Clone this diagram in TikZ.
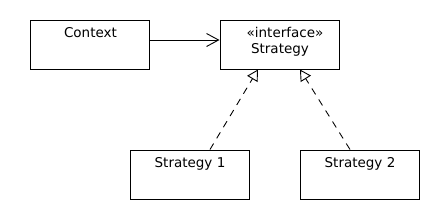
\documentclass[tikz,border=0pt]{standalone}
\usepackage{fontspec}
\setmainfont{DejaVu Sans}
\usetikzlibrary{arrows.meta}
\begin{document}
\begin{tikzpicture}[x=1pt,y=-1pt,
  box/.style={draw,line width=1pt,minimum width=119pt,minimum height=49pt,inner sep=0pt},
  lbl/.style={anchor=base,inner sep=0pt,font=\fontsize{13.5pt}{15pt}\selectfont},
  assoc/.style={line width=0.9pt,-{Straight Barb[length=12pt,width=13pt,line width=0.9pt]}},
  realize/.style={line width=0.9pt,dash pattern=on 7pt off 6pt,-{Triangle[open,fill=white,length=11pt,width=12pt,line width=0.9pt]}}]
\useasboundingbox[fill=white] (0,0) rectangle (440,220);
\node[box] (ctx) at (89.5,44.5) {};
\node[box] (strat) at (279.5,44.5) {};
\node[box] (s1) at (189.5,174.5) {};
\node[box] (s2) at (359.5,174.5) {};
\node[lbl] (ctxt) at (90.5,37) {Context};
\node[lbl] (st1) at (285,37) {«interface»};
\node[lbl] (st2) at (280,53.5) {Strategy};
\node[lbl] (s1t) at (190,167) {Strategy 1};
\node[lbl] (s2t) at (360,167) {Strategy 2};
\draw[assoc] ([yshift=4.5pt]ctx.east) -- ([yshift=4.5pt]strat.west);
\draw[realize] ([xshift=20.5pt]s1.north) -- ([xshift=-21.5pt]strat.south);
\draw[realize] ([xshift=-9.5pt]s2.north) -- ([xshift=20.5pt]strat.south);
\end{tikzpicture}
\end{document}
